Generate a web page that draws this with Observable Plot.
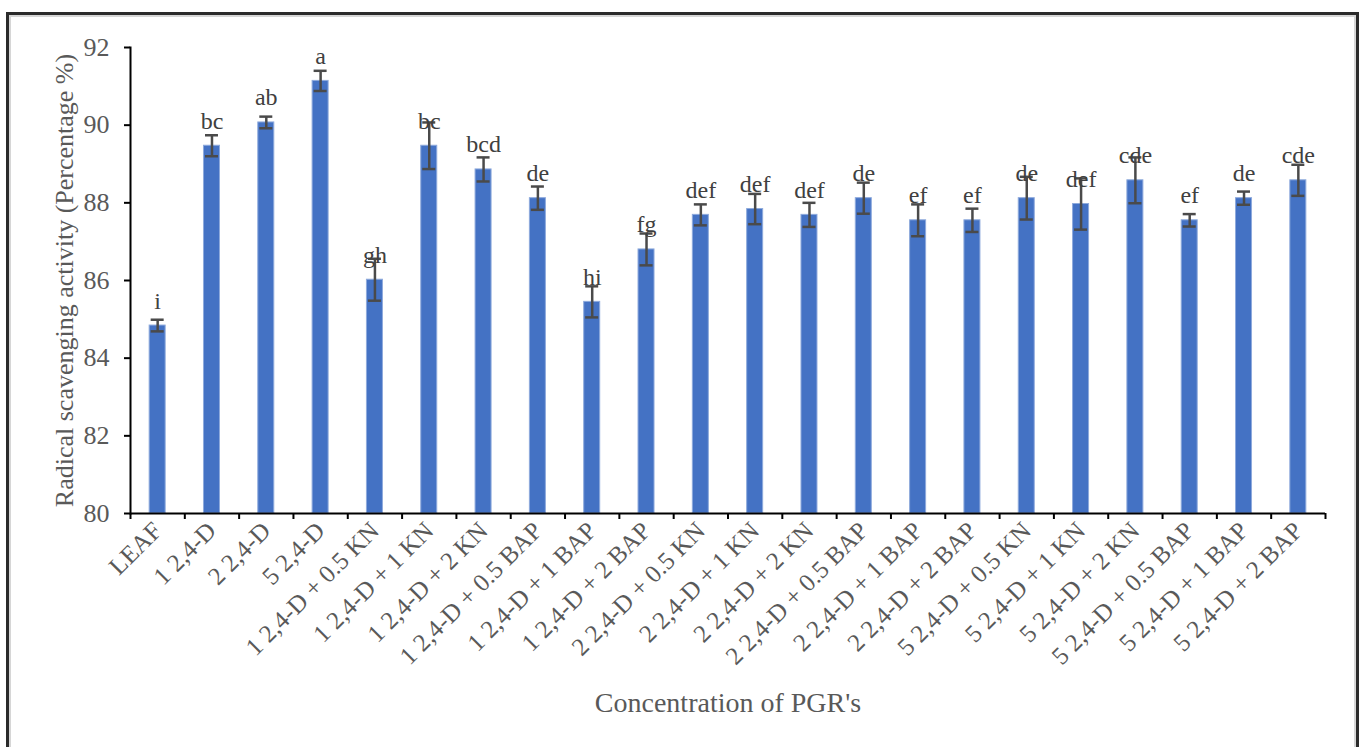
<!DOCTYPE html>
<html>
<head>
<meta charset="utf-8">
<script src="https://cdn.jsdelivr.net/npm/d3@7"></script>
<script src="https://cdn.jsdelivr.net/npm/@observablehq/plot@0.6"></script>
<style>
  html, body { margin: 0; padding: 0; background: #fff; overflow: hidden; width: 1365px; height: 747px; }
  #chart { position: absolute; left: 0; top: 0; }
  #border {
    position: absolute; left: 6px; top: 12px; width: 1353px; height: 800px;
    box-sizing: border-box; border: 3px solid #2b2b2b;
    box-shadow: inset 0 0 0 2px #d6d6d6; pointer-events: none;
  }
</style>
</head>
<body>
<div id="chart"></div>
<div id="border"></div>
<script>
// Treatments (plant growth regulator concentrations)
const categories = [
  "LEAF", "1 2,4-D", "2 2,4-D", "5 2,4-D",
  "1 2,4-D + 0.5 KN", "1 2,4-D + 1 KN", "1 2,4-D + 2 KN",
  "1 2,4-D + 0.5 BAP", "1 2,4-D + 1 BAP", "1 2,4-D + 2 BAP",
  "2 2,4-D + 0.5 KN", "2 2,4-D + 1 KN", "2 2,4-D + 2 KN",
  "2 2,4-D + 0.5 BAP", "2 2,4-D + 1 BAP", "2 2,4-D + 2 BAP",
  "5 2,4-D + 0.5 KN", "5 2,4-D + 1 KN", "5 2,4-D + 2 KN",
  "5 2,4-D + 0.5 BAP", "5 2,4-D + 1 BAP", "5 2,4-D + 2 BAP"
];

// Mean radical scavenging activity (%)
const values = [
  84.84, 89.47, 90.07, 91.14,
  86.02, 89.47, 88.86,
  88.12, 85.45, 86.80,
  87.69, 87.84, 87.69,
  88.12, 87.55, 87.55,
  88.12, 87.97, 88.58,
  87.55, 88.12, 88.58
];

// Standard error of each mean
const errors = [
  0.15, 0.27, 0.15, 0.26,
  0.54, 0.60, 0.31,
  0.30, 0.40, 0.41,
  0.27, 0.39, 0.31,
  0.40, 0.41, 0.30,
  0.55, 0.66, 0.59,
  0.16, 0.17, 0.40
];

// Significance groups
const letters = [
  "i", "bc", "ab", "a",
  "gh", "bc", "bcd",
  "de", "hi", "fg",
  "def", "def", "def",
  "de", "ef", "ef",
  "de", "def", "cde",
  "ef", "de", "cde"
];

const yTicks = [80, 82, 84, 86, 88, 90, 92];
const yTitle = "Radical scavenging activity (Percentage %)";
const xTitle = "Concentration of PGR's";

const W = 1365, H = 747;
const mL = 130, mR = 40, mT = 47, mB = 234;
const step = (W - mL - mR) / categories.length;
const barW = 16, capW = 13;
const serif = "'Liberation Serif', 'Times New Roman', serif";
const inkAxis = "#595959";
const inkErr = "#4a4a4a";

const rows = categories.map((c, i) => ({ c, v: values[i], e: errors[i], l: letters[i] }));

const chart = Plot.plot({
  width: W,
  height: H,
  marginLeft: mL,
  marginRight: mR,
  marginTop: mT,
  marginBottom: mB,
  style: { fontFamily: serif, background: "transparent", overflow: "visible" },
  x: { type: "band", domain: categories, padding: 0, round: false },
  y: { domain: [yTicks[0], yTicks[yTicks.length - 1]] },
  marks: [
    // bars
    Plot.barY(rows, {
      x: "c", y1: yTicks[0], y2: "v",
      fill: "#4472C4", stroke: "#8eaadc", strokeWidth: 1,
      insetLeft: (step - barW) / 2, insetRight: (step - barW) / 2
    }),
    // error bars
    Plot.ruleX(rows, { x: "c", y1: d => d.v - d.e, y2: d => d.v + d.e, stroke: inkErr, strokeWidth: 2.5 }),
    Plot.tickY(rows, { x: "c", y: d => d.v + d.e, inset: (step - capW) / 2, stroke: inkErr, strokeWidth: 2.5 }),
    Plot.tickY(rows, { x: "c", y: d => d.v - d.e, inset: (step - capW) / 2, stroke: inkErr, strokeWidth: 2.5 }),
    // significance letters
    Plot.text(rows, {
      x: "c", y: "v", text: "l", dy: -17, lineAnchor: "bottom",
      fontSize: 24, fill: "#404040"
    }),
    // axes
    Plot.axisY({
      ticks: yTicks, tickSize: 6, tickPadding: 15, fontSize: 26,
      stroke: "#000", strokeWidth: 2, fill: inkAxis, label: null
    }),
    Plot.frame({ anchor: "left", stroke: "#000", strokeWidth: 2 }),
    Plot.ruleY([yTicks[0]], { stroke: "#000", strokeWidth: 2 }),
    Plot.axisX({
      tickRotate: -45, tickSize: 0, tickPadding: 13, fontSize: 25,
      fill: inkAxis, label: null
    }),
    // category separators below the x axis
    Plot.tickX(categories, {
      x: d => d, dx: -step / 2, insetTop: H - mT - mB, insetBottom: -6,
      stroke: "#000", strokeWidth: 2
    }),
    Plot.tickX(categories.slice(-1), {
      x: d => d, dx: step / 2, insetTop: H - mT - mB, insetBottom: -6,
      stroke: "#000", strokeWidth: 2
    }),
    // axis titles
    Plot.text([yTitle], {
      text: d => d, frameAnchor: "left", textAnchor: "middle", dx: -66, rotate: -90,
      fontSize: 26, fill: inkAxis
    }),
    Plot.text([xTitle], {
      text: d => d, frameAnchor: "bottom", textAnchor: "middle", dy: 198,
      fontSize: 28, fill: inkAxis
    })
  ]
});

document.getElementById("chart").appendChild(chart);
</script>
</body>
</html>
